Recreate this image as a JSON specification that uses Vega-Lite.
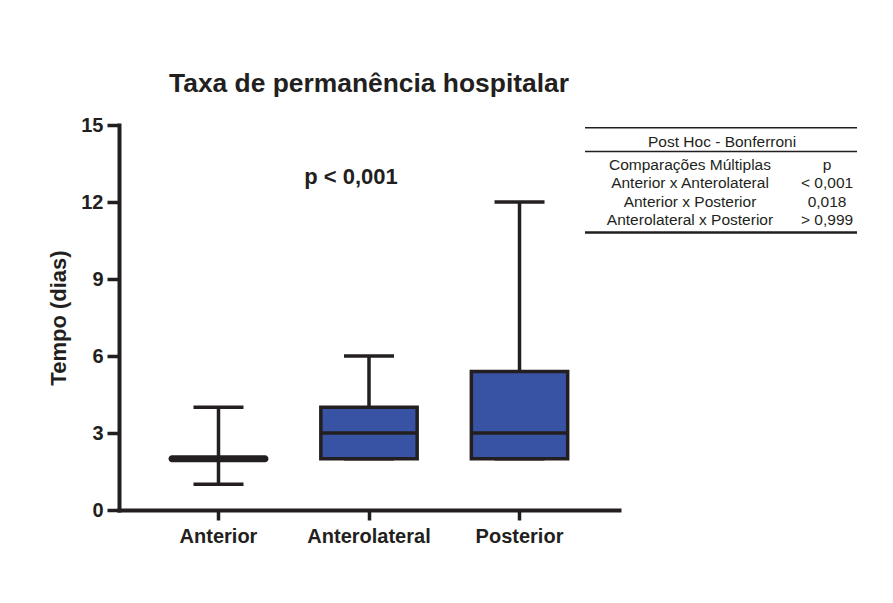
{
  "$schema": "https://vega.github.io/schema/vega-lite/v6.json",
  "width": 500,
  "height": 385,
  "autosize": {"type": "none"},
  "padding": {"left": 119, "top": 125, "right": 274, "bottom": 93},
  "background": "white",
  "config": {
    "view": {"stroke": null},
    "font": "Liberation Sans",
    "text": {"font": "Liberation Sans", "color": "#231f20"}
  },
  "title": {
    "text": "Taxa de permanência hospitalar",
    "font": "Liberation Sans",
    "fontSize": 26.4,
    "fontWeight": "bold",
    "color": "#231f20",
    "anchor": "middle",
    "frame": "group",
    "baseline": "alphabetic",
    "offset": -3
  },
  "layer": [
    {
      "data": {
        "values": [
          {"grupo": "Anterior", "min": 1, "q1": 2, "mediana": 2, "q3": 2, "max": 4},
          {"grupo": "Anterolateral", "min": 2, "q1": 2, "mediana": 3, "q3": 4, "max": 6},
          {"grupo": "Posterior", "min": 2, "q1": 2, "mediana": 3, "q3": 5.4, "max": 12}
        ]
      },
      "encoding": {
        "x": {
          "field": "grupo",
          "type": "nominal",
          "sort": null,
          "scale": {"paddingInner": 0.36, "paddingOuter": 0.341},
          "axis": {
            "title": null,
            "labelAngle": 0,
            "labelFont": "Liberation Sans",
            "labelFontSize": 20,
            "labelFontWeight": "bold",
            "labelColor": "#231f20",
            "labelPadding": 6,
            "tickSize": 10,
            "tickWidth": 3.5,
            "tickColor": "#231f20",
            "domainColor": "#231f20",
            "domainWidth": 4,
            "domainCap": "square",
            "grid": false
          }
        }
      },
      "layer": [
        {
          "mark": {"type": "rule", "strokeWidth": 3.5, "color": "#231f20"},
          "encoding": {
            "y": {
              "field": "min",
              "type": "quantitative",
              "scale": {"domain": [0, 15], "nice": false},
              "axis": {
                "values": [0, 3, 6, 9, 12, 15],
                "title": "Tempo (dias)",
                "titleFont": "Liberation Sans",
                "titleFontSize": 22,
                "titleFontWeight": "bold",
                "titleColor": "#231f20",
                "titlePadding": 10,
                "labelFont": "Liberation Sans",
                "labelFontSize": 20,
                "labelFontWeight": "bold",
                "labelColor": "#231f20",
                "labelPadding": 4,
                "tickSize": 12,
                "tickWidth": 3.5,
                "tickColor": "#231f20",
                "domainColor": "#231f20",
                "domainWidth": 4,
                "domainCap": "square",
                "grid": false
              }
            },
            "y2": {"field": "max"}
          }
        },
        {
          "mark": {"type": "tick", "thickness": 3.5, "size": 50, "color": "#231f20", "opacity": 1},
          "encoding": {"y": {"field": "max", "type": "quantitative"}}
        },
        {
          "mark": {"type": "tick", "thickness": 3.5, "size": 50, "color": "#231f20", "opacity": 1},
          "encoding": {"y": {"field": "min", "type": "quantitative"}}
        },
        {
          "mark": {"type": "bar", "fill": "#3953a4", "stroke": "#231f20", "strokeWidth": 3.5, "opacity": 1},
          "encoding": {
            "y": {"field": "q1", "type": "quantitative"},
            "y2": {"field": "q3"}
          }
        },
        {
          "mark": {"type": "tick", "thickness": 3.5, "size": 98, "color": "#231f20", "opacity": 1},
          "encoding": {"y": {"field": "mediana", "type": "quantitative"}}
        },
        {
          "transform": [{"filter": "datum.q1 == datum.q3"}],
          "mark": {"type": "tick", "thickness": 7, "size": 100, "cornerRadius": 3.5, "color": "#231f20", "opacity": 1},
          "encoding": {"y": {"field": "mediana", "type": "quantitative"}}
        },
        {
          "data": {"values": [{"texto": "p < 0,001"}]},
          "mark": {"type": "text", "fontSize": 22, "fontWeight": "bold", "dx": -18, "baseline": "alphabetic", "color": "#231f20"},
          "encoding": {
            "x": {"datum": "Anterolateral"},
            "y": {"datum": 12.7},
            "text": {"field": "texto"}
          }
        }
      ]
    },
    {
      "data": {
        "values": [
          {"linha": 1, "comparacao": "Comparações Múltiplas", "p": "p"},
          {"linha": 2, "comparacao": "Anterior x Anterolateral", "p": "< 0,001"},
          {"linha": 3, "comparacao": "Anterior x Posterior", "p": "0,018"},
          {"linha": 4, "comparacao": "Anterolateral x Posterior", "p": "> 0,999"}
        ]
      },
      "layer": [
        {
          "mark": {"type": "text", "fontSize": 15.5, "baseline": "alphabetic", "color": "#231f20"},
          "encoding": {
            "x": {"datum": 0.386, "type": "quantitative", "scale": {"domain": [0, 1], "range": [466, 738]}, "axis": null},
            "y": {"field": "linha", "type": "quantitative", "scale": {"domain": [-1.3, 4.42], "range": [-1, 109]}, "axis": null},
            "text": {"field": "comparacao"}
          }
        },
        {
          "mark": {"type": "text", "fontSize": 15.5, "baseline": "alphabetic", "color": "#231f20"},
          "encoding": {
            "x": {"datum": 0.89, "type": "quantitative", "axis": null},
            "y": {"field": "linha", "type": "quantitative", "axis": null},
            "text": {"field": "p"}
          }
        },
        {
          "data": {"values": [{"titulo": "Post Hoc - Bonferroni"}]},
          "mark": {"type": "text", "fontSize": 15.5, "baseline": "alphabetic", "dy": -5, "color": "#231f20"},
          "encoding": {
            "x": {"datum": 0.504, "type": "quantitative", "axis": null},
            "y": {"datum": 0, "type": "quantitative", "axis": null},
            "text": {"field": "titulo"}
          }
        },
        {
          "data": {"values": [{}]},
          "mark": {"type": "rule", "strokeWidth": 1.5, "color": "#231f20"},
          "encoding": {
            "x": {"datum": 0, "type": "quantitative", "axis": null},
            "x2": {"datum": 1},
            "y": {"datum": -1.3, "type": "quantitative", "axis": null}
          }
        },
        {
          "data": {"values": [{}]},
          "mark": {"type": "rule", "strokeWidth": 1.5, "color": "#231f20"},
          "encoding": {
            "x": {"datum": 0, "type": "quantitative", "axis": null},
            "x2": {"datum": 1},
            "y": {"datum": 0, "type": "quantitative", "axis": null}
          }
        },
        {
          "data": {"values": [{}]},
          "mark": {"type": "rule", "strokeWidth": 2.5, "color": "#231f20"},
          "encoding": {
            "x": {"datum": 0, "type": "quantitative", "axis": null},
            "x2": {"datum": 1},
            "y": {"datum": 4.42, "type": "quantitative", "axis": null}
          }
        }
      ]
    }
  ],
  "resolve": {"scale": {"x": "independent", "y": "independent"}}
}
